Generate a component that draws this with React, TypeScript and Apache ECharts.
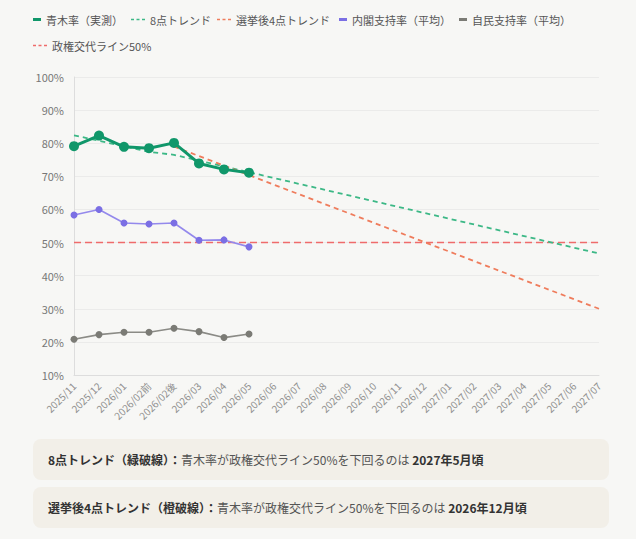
import React, { useEffect, useRef } from "react";
import * as echarts from "echarts";

const categories = [
  "2025/11", "2025/12", "2026/01", "2026/02前", "2026/02後", "2026/03", "2026/04", "2026/05",
  "2026/06", "2026/07", "2026/08", "2026/09", "2026/10", "2026/11", "2026/12",
  "2027/01", "2027/02", "2027/03", "2027/04", "2027/05", "2027/06", "2027/07",
];

const aokiActual = [79.1, 82.3, 78.9, 78.5, 80.1, 73.9, 72.1, 71.1];
const cabinetSupport = [58.3, 60.0, 55.9, 55.6, 55.9, 50.7, 50.8, 48.7];
const ldpSupport = [20.8, 22.2, 22.9, 22.9, 24.1, 23.1, 21.3, 22.4];

// trend lines at their end / bend points (null = not read)
const trend8 = [82.4, null, null, 77.4, 76.5, null, null, null, null, null, null, null, null, null, null, null, null, null, null, null, null, 46.7];
const trend4 = [null, null, null, null, 79.0, null, null, null, null, null, null, null, null, null, null, null, null, null, null, null, null, 30.0];
const threshold = [50, null, null, null, null, null, null, null, null, null, null, null, null, null, null, null, null, null, null, null, null, 50];

const yTicks = { min: 10, max: 100, interval: 10 };

const names = {
  aoki: "青木率（実測）",
  t8: "8点トレンド",
  t4: "選挙後4点トレンド",
  cab: "内閣支持率（平均）",
  ldp: "自民支持率（平均）",
  th: "政権交代ライン50%",
};

const notes = [
  { head: "8点トレンド（緑破線）：", body: "青木率が政権交代ライン50%を下回るのは ", tail: "2027年5月頃" },
  { head: "選挙後4点トレンド（橙破線）：", body: "青木率が政権交代ライン50%を下回るのは ", tail: "2026年12月頃" },
];

const FONT = '"Noto Sans CJK JP", "Noto Sans", sans-serif';
const SOLID = "path://M0,0h8v3h-8z";
const DASH = "path://M0,0h3v1.5h-3zM5.5,0h3v1.5h-3zM11,0h3v1.5h-3z";

// legend item placement (layout only)
const legendLayout = [
  { name: names.aoki, icon: SOLID, w: 8, left: 33, top: 14 },
  { name: names.t8, icon: DASH, w: 14, left: 131, top: 14 },
  { name: names.t4, icon: DASH, w: 14, left: 217, top: 14 },
  { name: names.cab, icon: SOLID, w: 8, left: 339, top: 14 },
  { name: names.ldp, icon: SOLID, w: 8, left: 459, top: 14 },
  { name: names.th, icon: DASH, w: 14, left: 33, top: 40 },
];

export default function App() {
  const ref = useRef<HTMLDivElement>(null);

  useEffect(() => {
    document.body.style.margin = "0";
    document.body.style.background = "#f7f7f5";
    if (!ref.current) return;
    const chart = echarts.init(ref.current, undefined, { renderer: "svg" });
    chart.setOption({
      animation: false,
      backgroundColor: "transparent",
      textStyle: { fontFamily: FONT },
      legend: legendLayout.map((l) => ({
        left: l.left,
        top: l.top,
        itemWidth: l.w,
        itemHeight: 3,
        padding: 0,
        textStyle: { fontSize: 11, color: "#555", fontFamily: FONT },
        itemStyle: { borderWidth: 0 },
        data: [{ name: l.name, icon: l.icon }],
      })),
      grid: { left: 74, right: 37, top: 77, bottom: 57, containLabel: false },
      xAxis: {
        type: "category",
        data: categories,
        boundaryGap: false,
        axisLine: { lineStyle: { color: "#dddddd" } },
        axisTick: { show: false },
        axisLabel: { rotate: 45, interval: 0, fontSize: 10, color: "#8f8f8f", margin: 9, fontFamily: FONT },
        splitLine: { show: false },
      },
      yAxis: {
        type: "value",
        min: yTicks.min,
        max: yTicks.max,
        interval: yTicks.interval,
        axisLine: { show: true, lineStyle: { color: "#dddddd" } },
        axisTick: { show: false },
        axisLabel: { formatter: "{value}%", fontSize: 11, color: "#777", margin: 10, fontFamily: FONT },
        splitLine: { lineStyle: { color: "#ebebea" } },
      },
      series: [
        {
          name: names.th,
          type: "line",
          data: threshold,
          connectNulls: true,
          symbol: "none",
          color: "#ef6b6b",
          lineStyle: { color: "#ef6b6b", width: 1.5, type: [7, 4] },
          z: 1,
        },
        {
          name: names.t8,
          type: "line",
          data: trend8,
          connectNulls: true,
          symbol: "none",
          color: "#3cb886",
          lineStyle: { color: "#3cb886", width: 1.8, type: [5, 4] },
          z: 2,
        },
        {
          name: names.t4,
          type: "line",
          data: trend4,
          connectNulls: true,
          symbol: "none",
          color: "#ef7c5c",
          lineStyle: { color: "#ef7c5c", width: 1.8, type: [5, 4] },
          z: 2,
        },
        {
          name: names.ldp,
          type: "line",
          data: ldpSupport,
          symbol: "circle",
          symbolSize: 7,
          color: "#7b7b75",
          lineStyle: { color: "#8b8b86", width: 1.6 },
          itemStyle: { color: "#7b7b75" },
          z: 3,
        },
        {
          name: names.cab,
          type: "line",
          data: cabinetSupport,
          symbol: "circle",
          symbolSize: 7,
          color: "#7b6fe4",
          lineStyle: { color: "#9489ec", width: 1.6 },
          itemStyle: { color: "#7b6fe4" },
          z: 3,
        },
        {
          name: names.aoki,
          type: "line",
          data: aokiActual,
          symbol: "circle",
          symbolSize: 10,
          color: "#10976a",
          lineStyle: { color: "#10976a", width: 3 },
          itemStyle: { color: "#10976a" },
          z: 4,
        },
      ],
    });
    return () => chart.dispose();
  }, []);

  return (
    <div style={{ position: "relative", width: 636, height: 539, background: "#f7f7f5", overflow: "hidden", fontFamily: FONT }}>
      <div ref={ref} style={{ position: "absolute", left: 0, top: 0, width: 636, height: 432 }} />
      {notes.map((n, i) => (
        <div
          key={i}
          style={{
            position: "absolute",
            left: 33,
            top: 439 + i * 48,
            width: 576,
            height: 41,
            lineHeight: "41px",
            background: "#f2efe8",
            borderRadius: 8,
            boxSizing: "border-box",
            paddingLeft: 15,
            fontSize: 12,
            color: "#555",
            whiteSpace: "nowrap",
          }}
        >
          <span style={{ fontWeight: 700, color: "#333" }}>{n.head}</span>
          <span>{n.body}</span>
          <span style={{ fontWeight: 700, color: "#333" }}>{n.tail}</span>
        </div>
      ))}
    </div>
  );
}
